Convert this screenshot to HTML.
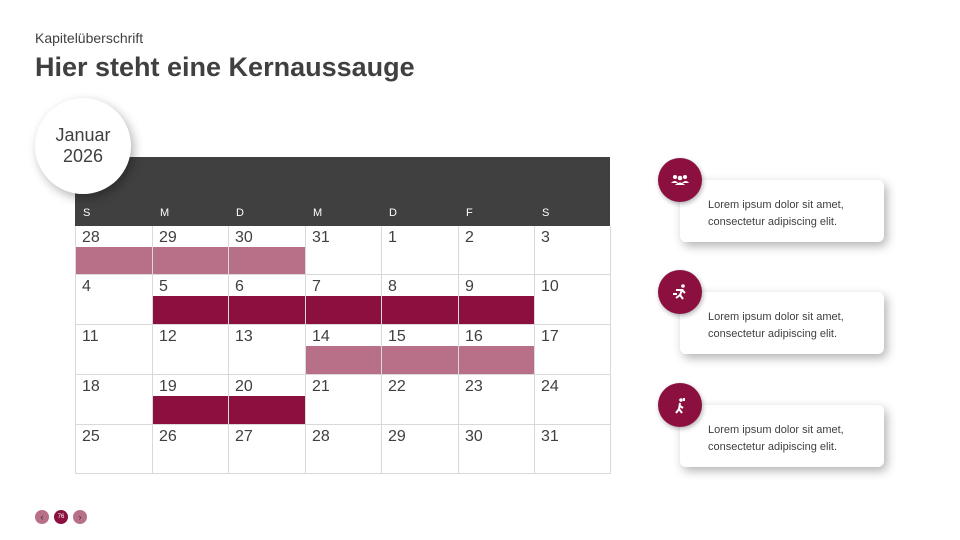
<!DOCTYPE html>
<html><head><meta charset="utf-8"><style>
body{margin:0;width:960px;height:540px;background:#fff;position:relative;overflow:hidden;font-family:"Liberation Sans",sans-serif;color:#404040}
.a{position:absolute}
.cell{position:absolute;border-left:1px solid #d9d9d9;border-bottom:1px solid #d9d9d9;font-size:16px;color:#404040;box-sizing:border-box;padding:3px 0 0 6px}
.card{position:absolute;left:680px;width:204px;height:62px;background:#fff;border-radius:6px;box-shadow:3px 4px 10px rgba(0,0,0,.3);font-size:11px;line-height:17px;color:#404040;box-sizing:border-box;padding:17px 0 0 28px}
.ic{position:absolute;width:44px;height:44px;border-radius:50%;background:#8b1040;box-shadow:1px 2px 5px rgba(0,0,0,.3)}
.ic svg{position:absolute;left:12px;top:12px}
</style></head><body>
<div class="a" style="left:35px;top:30px;font-size:14px">Kapitelüberschrift</div>
<div class="a" style="left:35px;top:52px;font-size:27px;font-weight:bold;color:#404040">Hier steht eine Kernaussauge</div>
<div class="a" style="left:75px;top:157px;width:535px;height:69px;background:#404040"></div>
<div id="g"></div>
<div class="a" style="left:35px;top:98px;width:96px;height:96px;border-radius:50%;background:#fff;box-shadow:3px 4px 10px rgba(0,0,0,.3);text-align:center;font-size:18px;line-height:21px;box-sizing:border-box;padding-top:27px">Januar<br>2026</div>
<div class="card" style="top:180px">Lorem ipsum dolor sit amet,<br>consectetur adipiscing elit.</div>
<div class="card" style="top:292px">Lorem ipsum dolor sit amet,<br>consectetur adipiscing elit.</div>
<div class="card" style="top:405px">Lorem ipsum dolor sit amet,<br>consectetur adipiscing elit.</div>
<div class="ic" style="left:658px;top:158px"><svg width="20" height="20" viewBox="0 0 20 20" fill="#fff"><circle cx="5" cy="7" r="2"/><circle cx="15" cy="7" r="2"/><circle cx="10" cy="8" r="2.3"/><path d="M1 13q4-4 7 0zM12 13q4-4 7 0zM5 15q5-5 10 0z"/></svg></div>
<div class="ic" style="left:658px;top:270px"><svg width="20" height="20" viewBox="0 0 20 20" fill="none" stroke="#fff" stroke-width="2"><circle cx="13" cy="4" r="1.8" fill="#fff" stroke="none"/><path d="M6 8h6l-2 5 3 4M10 13l-4 3M12 8l3 3M3 12h4"/></svg></div>
<div class="ic" style="left:658px;top:383px"><svg width="20" height="20" viewBox="0 0 20 20" fill="none" stroke="#fff" stroke-width="2"><circle cx="11" cy="5" r="1.8" fill="#fff" stroke="none"/><path d="M10 8l-1 6-3 4M10 11l3 2M9 14l3 4M14 3v3"/></svg></div>
<div class="a" style="left:35px;top:510px;width:14px;height:14px;border-radius:50%;background:#b86f88;font-size:9px;text-align:center;line-height:14px;color:#333">‹</div>
<div class="a" style="left:54px;top:510px;width:14px;height:14px;border-radius:50%;background:#8b1040;font-size:6px;text-align:center;line-height:14px;color:#fff">76</div>
<div class="a" style="left:73px;top:510px;width:14px;height:14px;border-radius:50%;background:#b86f88;font-size:9px;text-align:center;line-height:14px;color:#333">›</div>
<script>
var xs=[75,152,228,305,381,458,534,610],ys=[226,275,325,375,425,474];
var h="",L="SMDMDFS";
for(var c=0;c<7;c++)h+='<div class="a" style="left:'+(xs[c]+8)+'px;top:207px;font-size:11px;color:#fff">'+L[c]+'</div>';
var bars=[[0,0,3,'#b86f88'],[1,1,6,'#8b1040'],[2,3,6,'#b86f88'],[3,1,3,'#8b1040']];
bars.forEach(function(b){h+='<div class="a" style="left:'+xs[b[1]]+'px;top:'+(ys[b[0]]+21)+'px;width:'+(xs[b[2]]-xs[b[1]])+'px;height:'+(ys[b[0]+1]-ys[b[0]]-22)+'px;background:'+b[3]+'"></div>'});
var d=[28,29,30,31];for(var i=1;i<=31;i++)d.push(i);
for(var r=0;r<5;r++)for(c=0;c<7;c++){h+='<div class="cell" style="left:'+xs[c]+'px;top:'+ys[r]+'px;width:'+(xs[c+1]-xs[c]+(c==6?1:0))+'px;height:'+(ys[r+1]-ys[r])+'px;'+(c==6?'border-right:1px solid #d9d9d9;':'')+'">'+d[r*7+c]+'</div>'}
document.getElementById('g').innerHTML=h;
</script>
</body></html>
